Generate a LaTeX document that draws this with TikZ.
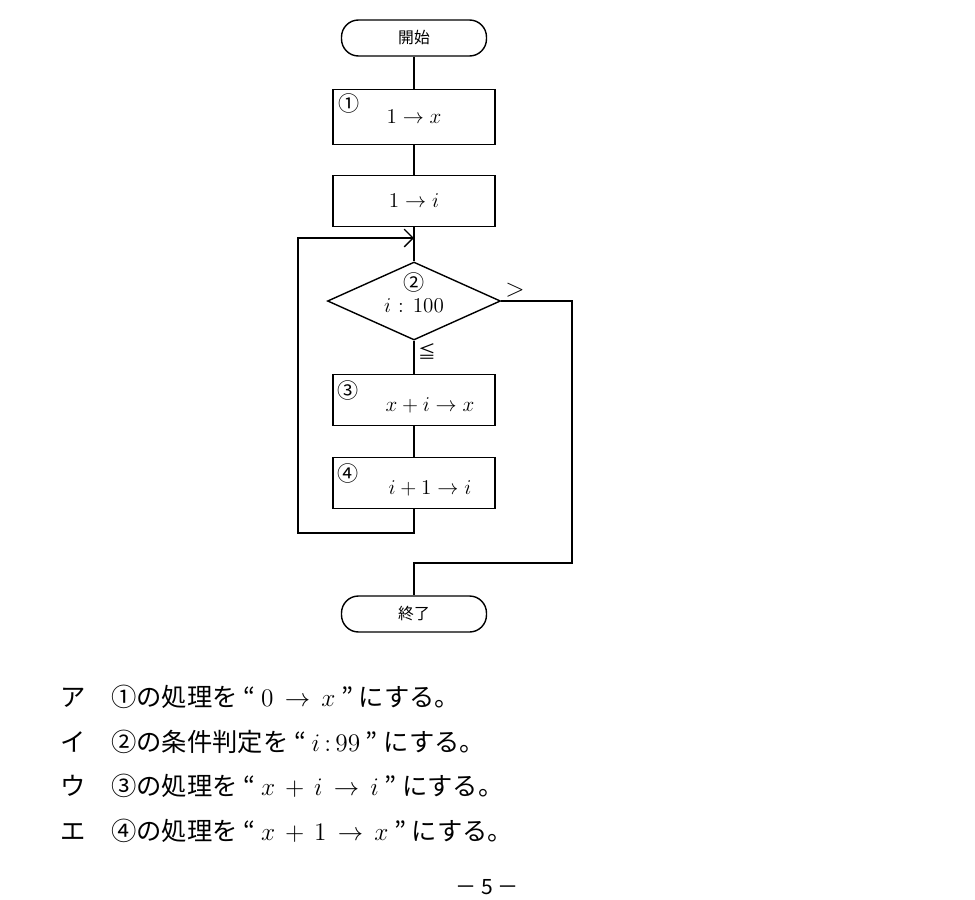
\documentclass[tikz,border=0pt]{standalone}
\usepackage{fontspec}
\usepackage{amsmath}
\usepackage{amssymb}
\newfontfamily\jp{Noto Sans CJK JP}
\usetikzlibrary{shapes.geometric,arrows.meta}

\tikzset{
	proc/.style = {draw, thick, minimum width = 162*0.02cm, minimum height = 51*0.02cm, inner sep = 0, font = \large},
	term/.style = {draw, thick, rounded corners = 17*0.02cm, minimum width = 145*0.02cm, minimum height = 36*0.02cm, inner sep = 0, font = \jp\small},
	tag/.style = {font = \jp\large, inner sep = 0},
	choice/.style = {tag, anchor = west, font = \jp\Large}
}

\begin{document}
\begin{tikzpicture}[x = 0.02cm, y = -0.02cm, line width = 0.8pt]
	 \useasboundingbox (0, 0) rectangle (975, 900);
	 
	 \node[term] (start) at (414, 38) {開始};
	 \node[proc, minimum height = 55*0.02cm] (setx) at (414, 117) {$1 \rightarrow x$};
	 \node[tag] at (349, 103) {①};
	 \node[proc] (seti) at (414, 201) {$1 \rightarrow i$};
	 \node[draw, thick, diamond, aspect = 2.2, minimum width = 173*0.02cm, minimum height = 78*0.02cm, inner sep = 0] (cond) at (414, 301) {};
	 \node[tag] at (414, 282) {②};
	 \node[font = \large] at (414, 306) {$i$ : 100};
	 \node[proc] (addx) at (414, 400) {};
	 \node[tag] at (348, 390) {③};
	 \node[font = \large] at (430, 405) {$x + i \rightarrow x$};
	 \node[proc] (inci) at (414, 483) {};
	 \node[tag] at (348, 473) {④};
	 \node[font = \large] at (430, 488) {$i + 1 \rightarrow i$};
	 \node[term] (stop) at (414, 614) {終了};
	 
	 \coordinate (join) at (414, 238);
	 \coordinate (back) at (414, 533);
	 \coordinate (out) at (414, 563);
	 
	 \draw (start) -- (setx);
	 \draw (setx) -- (seti);
	 \draw (seti.south) -- (cond.north);
	 \draw (cond.south) -- (addx);
	 \draw (addx) -- (inci);
	 \draw (inci.south) -- (back) -- (298, 533) -- (298, 238) -- (join);
	 \draw[-{Straight Barb[length = 5pt, width = 10pt]}] (298, 238) -- (join);
	 \draw (cond.east) -- (572, 301) -- (572, 563) -- (out) -- (stop.north);
	 \node[font = \Large] at (515, 290) {$>$};
	 \node[font = \jp] at (427, 351) {≦};
	 
	 % choices
	 \node[choice] at (60, 697) {ア\hspace{1em}①の処理を “ $0 \,\rightarrow\, x$ ” にする。};
	 \node[choice] at (60, 742) {イ\hspace{1em}②の条件判定を “ $i\,{:}\,99$ ” にする。};
	 \node[choice] at (60, 786) {ウ\hspace{1em}③の処理を “ $x \,+\, i \,\rightarrow\, i$ ” にする。};
	 \node[choice] at (60, 831) {エ\hspace{1em}④の処理を “ $x \,+\, 1 \,\rightarrow\, x$ ” にする。};
	 \node[font = \jp\large] at (487, 887) {－ 5 －};
\end{tikzpicture}
\end{document}
